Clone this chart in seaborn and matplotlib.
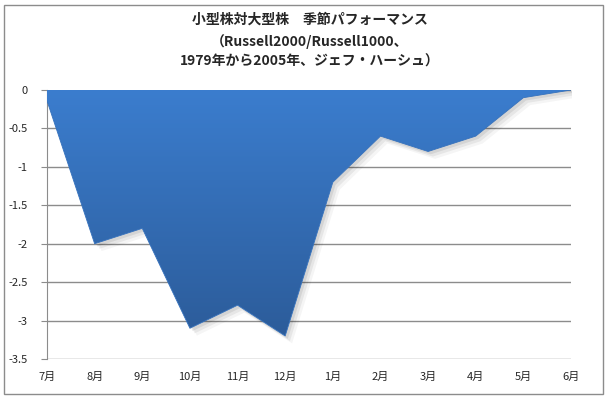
import matplotlib
matplotlib.use('Agg')
import matplotlib.pyplot as plt
import seaborn as sns
import numpy as np
import pandas as pd
from matplotlib.patches import Rectangle

months = ['7月', '8月', '9月', '10月', '11月', '12月', '1月', '2月', '3月', '4月', '5月', '6月']
perf = [-0.14, -2.0, -1.8, -3.1, -2.8, -3.2, -1.2, -0.6, -0.8, -0.6, -0.1, 0.0]
yticks = [0, -0.5, -1, -1.5, -2, -2.5, -3, -3.5]
title = '小型株対大型株　季節パフォーマンス\n（Russell2000/Russell1000、\n1979年から2005年、ジェフ・ハーシュ）'

sns.set_style('white')
plt.rcParams['font.family'] = ['Noto Sans CJK JP', 'DejaVu Sans']

df = pd.DataFrame({'x': np.arange(len(months)), 'y': perf})

fig = plt.figure(figsize=(6.07, 3.99), dpi=100)
ax = fig.add_axes([47 / 607, 1 - 359 / 399, (571 - 47) / 607, (359 - 90) / 399])

# grid lines
for v in yticks:
    ax.axhline(v, color='#8c8c8c', lw=1, zorder=1)

# soft shadow under the area
for i, a in enumerate([0.08, 0.06, 0.04]):
    d = 0.03 * (i + 1)
    ax.fill_between(df['x'] + d * 1.5, 0, df['y'] - d, color='black', alpha=a, lw=0, zorder=2)

# gradient area
poly = ax.fill_between(df['x'], 0, df['y'], color='none', lw=0, zorder=3)
grad = np.linspace(0, 1, 256).reshape(-1, 1)
cmap = matplotlib.colors.LinearSegmentedColormap.from_list('g', ['#3b7dce', '#2c5c9a'])
im = ax.imshow(grad, aspect='auto', cmap=cmap, extent=[0, 11, -3.2, 0], origin='upper', zorder=3)
path = poly.get_paths()[0]
im.set_clip_path(path, transform=ax.transData)

sns.lineplot(data=df, x='x', y='y', ax=ax, color='#3672bd', lw=0.6, zorder=4)

ax.set_xlim(0, 11)
ax.set_ylim(-3.5, 0)
ax.set_xticks(df['x'])
ax.set_xticklabels(months, fontsize=8)
ax.set_yticks(yticks)
ax.set_yticklabels([f'{v:g}' for v in yticks], fontsize=8)
ax.tick_params(axis='y', length=4, color='#8c8c8c', pad=10, left=True)
ax.tick_params(axis='x', length=0, pad=9)
ax.set_xlabel('')
ax.set_ylabel('')
for s in ['top', 'right', 'bottom']:
    ax.spines[s].set_visible(False)
ax.spines['left'].set_color('#8c8c8c')

fig.text(310 / 607, 1 - 13 / 399, title, ha='center', va='top', fontsize=10,
         fontweight='bold', linespacing=1.55)

fig.patches.append(Rectangle((4 / 607, 5 / 399), 599 / 607, 389 / 399, transform=fig.transFigure,
                             fill=False, edgecolor='#8c8c8c', lw=1))

fig.savefig('out.png', dpi=100)
